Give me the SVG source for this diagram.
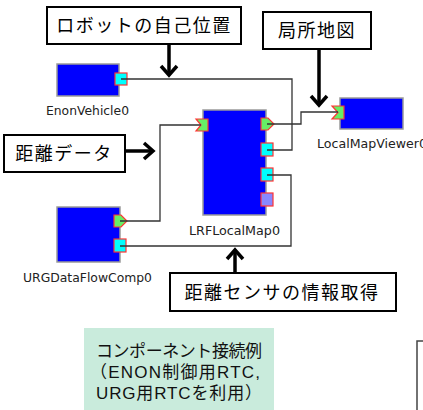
<svg xmlns="http://www.w3.org/2000/svg" width="423" height="410" viewBox="0 0 423 410">
<style>
.blk{fill:#0000FF;stroke:#9a9a9a;stroke-width:1.5}
.svc{fill:#00FFFF;stroke:#FF3333;stroke-width:1.2}
.svc2{fill:#8888FF;stroke:#FF3333;stroke-width:1.2}
.dp{fill:#66EE66;stroke:#FF3333;stroke-width:1.2}
.lbl{font-family:"DejaVu Sans","Liberation Sans",sans-serif;font-size:12px;fill:#222}
.cb{fill:#fff;stroke:#000;stroke-width:2}
.ct{font-family:"Noto Sans CJK JP","Noto Sans",sans-serif;font-size:18px;fill:#000;letter-spacing:1.5px}
.ar{fill:none;stroke:#000;stroke-width:3.5}
.ah{fill:none;stroke:#000;stroke-width:3.5;stroke-linejoin:miter}
.wire{fill:none;stroke:#333;stroke-width:1.3}
.nt{font-family:"Liberation Sans","Noto Sans CJK JP",sans-serif;font-size:17px;fill:#111}
</style>
<g id="EnonVehicle0">
<rect class="blk" x="57" y="64" width="62" height="32"/>
<rect class="svc" x="115" y="73" width="12" height="12"/>
<text class="lbl" x="46" y="115" textLength="83" lengthAdjust="spacingAndGlyphs">EnonVehicle0</text>
</g>
<g id="LRFLocalMap0">
<rect class="blk" x="203" y="110" width="63" height="105"/>
<polygon class="dp" points="196,119 208,119 208,131 196,131 201,125"/>
<polygon class="dp" points="261,118 268,118 274,124 268,130 261,130"/>
<rect class="svc" x="261" y="143" width="12" height="13"/>
<rect class="svc" x="261" y="168" width="12" height="13"/>
<rect class="svc2" x="261" y="193" width="12" height="13"/>
<text class="lbl" x="189" y="235" textLength="91" lengthAdjust="spacingAndGlyphs">LRFLocalMap0</text>
</g>
<g id="LocalMapViewer0">
<rect class="blk" x="340" y="98" width="63" height="31"/>
<polygon class="dp" points="332,106 344,106 344,119 332,119 338,112.5"/>
<text class="lbl" x="317" y="148" textLength="110" lengthAdjust="spacingAndGlyphs">LocalMapViewer0</text>
</g>
<g id="URGDataFlowComp0">
<rect class="blk" x="57" y="207" width="63" height="55"/>
<polygon class="dp" points="114,215 121,215 127,221 121,227 114,227"/>
<rect class="svc" x="114" y="239" width="12" height="13"/>
<text class="lbl" x="23" y="282" textLength="129" lengthAdjust="spacingAndGlyphs">URGDataFlowComp0</text>
</g>
<g id="connectors">
<polyline class="wire" points="121,79 292,79 292,150 267,150"/>
<polyline class="wire" points="120,221 160,221 160,125 201,125"/>
<polyline class="wire" points="120,246 291,246 291,175 267,175"/>
<polyline class="wire" points="267,124 301,124 301,112 338,112"/>
</g>
<g id="callout-robot">
<rect class="cb" x="47" y="7" width="194" height="37"/>
<text class="ct" x="144" y="32" text-anchor="middle">ロボットの自己位置</text>
<line class="ar" x1="169" y1="44" x2="169" y2="74"/>
<polyline class="ah" points="161,66 169,75 177,66"/>
</g>
<g id="callout-map">
<rect class="cb" x="263" y="12" width="108" height="37"/>
<text class="ct" x="317" y="37" text-anchor="middle">局所地図</text>
<line class="ar" x1="319" y1="49" x2="319" y2="104"/>
<polyline class="ah" points="311,96 319,105 327,96"/>
</g>
<g id="callout-range">
<rect class="cb" x="4" y="135" width="121" height="37"/>
<text class="ct" x="64" y="160" text-anchor="middle">距離データ</text>
<line class="ar" x1="125" y1="151" x2="152" y2="151"/>
<polyline class="ah" points="144,143 153,151 144,159"/>
</g>
<g id="callout-sensor">
<rect class="cb" x="170" y="273" width="226" height="38"/>
<text class="ct" x="282" y="299" text-anchor="middle">距離センサの情報取得</text>
<line class="ar" x1="235" y1="273" x2="235" y2="251"/>
<polyline class="ah" points="227,259 235,250 243,259"/>
</g>
<g id="note">
<rect x="84" y="328" width="190" height="82" fill="#C9EBDC"/>
<text class="nt" x="96" y="357" textLength="166">コンポーネント接続例</text>
<text class="nt" x="90" y="378" textLength="170">（ENON制御用RTC,</text>
<text class="nt" x="96" y="399" textLength="166">URG用RTCを利用）</text>
</g>
<rect x="417" y="341" width="20" height="80" fill="#fff" stroke="#444" stroke-width="1.5"/>
</svg>
